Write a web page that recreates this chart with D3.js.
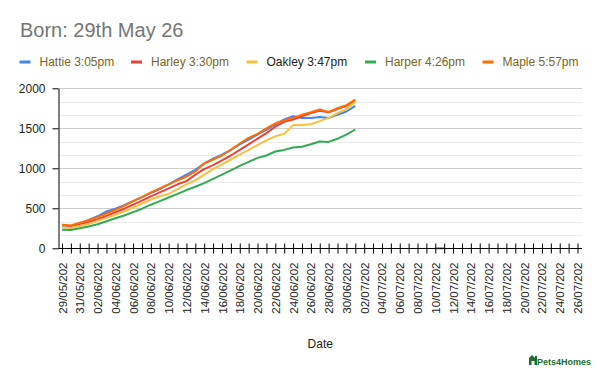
<!DOCTYPE html>
<html>
<head>
<meta charset="utf-8">
<script src="https://cdn.jsdelivr.net/npm/d3@7"></script>
<style>
  body { margin: 0; background: #fff; }
  svg { font-family: Arial, "Liberation Sans", sans-serif; }
</style>
</head>
<body>
<svg id="chart" width="600" height="371"></svg>
<script>
// categories: one per day, 29/05 .. 26/07
var startDay = new Date(2026, 4, 29);
var endDay = new Date(2026, 6, 27);
var days = d3.timeDay.range(startDay, endDay);

var seriesNames = ["Hattie 3:05pm", "Harley 3:30pm", "Oakley 3:47pm", "Harper 4:26pm", "Maple 5:57pm"];
var seriesColors = ["#4285f4", "#ea4335", "#f6c141", "#34a853", "#ff6d01"];
var legendTextColors = ["#7a6520", "#7a6520", "#222222", "#7a6520", "#7a6520"];

var hattie = [285, 280, 315, 355, 400, 460, 495, 540, 590, 640, 690, 740, 800, 860, 920, 980, 1060,
  1120, 1170, 1230, 1300, 1360, 1420, 1480, 1550, 1610, 1650, 1630, 1630, 1640, 1630, 1670, 1710, 1780];
var harley = [290, 280, 305, 330, 365, 405, 450, 495, 545, 595, 650, 700, 750, 800, 840, 920, 990,
  1040, 1100, 1160, 1230, 1300, 1370, 1440, 1520, 1580, 1610, 1650, 1690, 1720, 1700, 1740, 1780, 1850];
var oakley = [262, 255, 280, 305, 340, 380, 420, 460, 510, 560, 610, 650, 680, 740, 800, 850, 920,
  990, 1050, 1110, 1170, 1230, 1290, 1350, 1400, 1430, 1540, 1540, 1550, 1590, 1630, 1690, 1740, 1830];
var harper = [232, 228, 250, 272, 300, 338, 375, 410, 452, 495, 545, 590, 635, 680, 728, 770, 815,
  868, 920, 975, 1030, 1080, 1130, 1160, 1210, 1230, 1260, 1270, 1300, 1335, 1330, 1370, 1420, 1485];
var maple = [295, 285, 320, 350, 390, 435, 480, 530, 590, 640, 700, 750, 800, 850, 895, 960, 1060,
  1110, 1160, 1230, 1310, 1380, 1430, 1500, 1560, 1600, 1630, 1670, 1700, 1735, 1705, 1750, 1790, 1860,
  null, null, null, null, null, null, null, null, 0, 0];

var yTicks = [0, 500, 1000, 1500, 2000];

var allSeries = [hattie, harley, oakley, harper, maple];

var svg = d3.select("#chart");
var fmtDay = d3.timeFormat("%d/%m/%Y");

var x = d3.scaleLinear()
    .domain([0, days.length - 1])
    .range([62, 577.5]);

var y = d3.scaleLinear()
    .domain([0, 2000])
    .range([248.3, 88.3]);

var plot = { left: 58.5, right: 582 };

// title
svg.append("text")
    .attr("x", 20)
    .attr("y", 37)
    .style("font-size", "20px")
    .style("fill", "#757575")
    .text("Born: 29th May 26");

// legend
var legendX = [19.5, 131, 246.5, 365, 482.5];
var legend = svg.append("g").attr("class", "legend");
seriesNames.forEach(function(name, i) {
  legend.append("rect")
      .attr("x", legendX[i])
      .attr("y", 60.5)
      .attr("width", 11)
      .attr("height", 3)
      .style("fill", seriesColors[i]);
  legend.append("text")
      .attr("x", legendX[i] + 20)
      .attr("y", 66)
      .style("font-size", "12px")
      .style("fill", legendTextColors[i])
      .text(name);
});

// gridlines: major every 500, two minor between
var grid = svg.append("g").attr("class", "grid");
var minorVals = d3.range(0, 2000, 500 / 3).filter(function(v, i) { return i % 3 !== 0; });
grid.selectAll("line.minor")
    .data(minorVals)
    .enter().append("line")
    .attr("class", "minor")
    .attr("x1", plot.left).attr("x2", plot.right)
    .attr("y1", d => Math.round(y(d)) + 0.5)
    .attr("y2", d => Math.round(y(d)) + 0.5)
    .style("stroke", "#ebebeb");
grid.selectAll("line.major")
    .data(yTicks.slice(1))
    .enter().append("line")
    .attr("class", "major")
    .attr("x1", plot.left).attr("x2", plot.right)
    .attr("y1", d => Math.round(y(d)) + 0.5)
    .attr("y2", d => Math.round(y(d)) + 0.5)
    .style("stroke", "#cccccc");

// series lines
var line = d3.line()
    .defined(d => d != null)
    .x((d, i) => x(i))
    .y(d => y(d));

svg.append("g").attr("class", "series")
    .selectAll("path")
    .data(allSeries)
    .enter().append("path")
    .attr("d", d => line(d))
    .style("fill", "none")
    .style("stroke", (d, i) => seriesColors[i])
    .style("stroke-width", 2)
    .style("stroke-linejoin", "round");

// y axis
var yAxis = svg.append("g")
    .attr("transform", "translate(" + plot.left + ",0)")
    .call(d3.axisLeft(y).tickValues(yTicks).tickFormat(d3.format("d"))
      .tickSize(6).tickPadding(7).tickSizeOuter(0));
yAxis.select(".domain").style("stroke", "#000");
yAxis.selectAll(".tick line").style("stroke", "#000");
yAxis.selectAll("text")
    .style("font-size", "12px")
    .style("font-family", "Arial, 'Liberation Sans', sans-serif")
    .style("fill", "#222");

// x axis
var xAxis = svg.append("g")
    .attr("transform", "translate(0," + (Math.round(y(0)) + 0.5) + ")")
    .call(d3.axisBottom(x)
      .tickValues(d3.range(days.length))
      .tickSize(5)
      .tickSizeOuter(0)
      .tickFormat(i => i % 2 === 0 ? fmtDay(days[i]).slice(0, 9) : ""));
xAxis.select(".domain")
    .attr("d", "M" + plot.left + ",0H" + plot.right)
    .style("stroke", "#000");
xAxis.selectAll(".tick line")
    .attr("y1", -5)
    .style("stroke", "#000");
xAxis.selectAll(".tick text")
    .attr("transform", "rotate(-90)")
    .attr("x", -14)
    .attr("y", 0)
    .attr("dy", "0.35em")
    .style("text-anchor", "end")
    .style("font-size", "11.5px")
    .style("font-family", "Arial, 'Liberation Sans', sans-serif")
    .style("fill", "#222");

// x axis title
svg.append("text")
    .attr("x", (plot.left + plot.right) / 2)
    .attr("y", 348)
    .attr("text-anchor", "middle")
    .style("font-size", "12px")
    .style("fill", "#222")
    .text("Date");

// watermark logo
var logo = svg.append("g").attr("transform", "translate(529,355)");
logo.append("path")
    .attr("d", "M0,10 L0,3 L3,0 L6,3 L6,1 L8,1 L8,10 L5.5,10 L5.5,6 L2.5,6 L2.5,10 Z")
    .style("fill", "#1c6e30");
logo.append("text")
    .attr("x", 8)
    .attr("y", 9.5)
    .style("font-size", "9px")
    .style("font-weight", "bold")
    .style("fill", "#1c6e30")
    .text("Pets4Homes");
</script>
</body>
</html>
